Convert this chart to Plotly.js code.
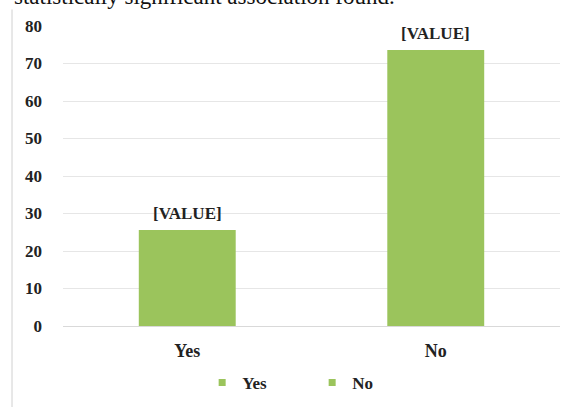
<!DOCTYPE html>
<html>
<head>
<meta charset="utf-8">
<script src="https://cdn.plot.ly/plotly-3.0.1.min.js"></script>
<style>html,body{margin:0;padding:0;background:#fff;}#chart{width:574px;height:407px;}</style>
</head>
<body>
<div id="chart"></div>
<script>
var categories = ["Yes", "No"];
var values = [25.6, 73.6];
var barLabels = ["[VALUE]", "[VALUE]"];
var yTicks = [0, 10, 20, 30, 40, 50, 60, 70, 80];
var captionText = "statistically significant association found.";

var green = "#9bc45c";
var serif = "'Liberation Serif', 'Times New Roman', serif";

var traces = categories.map(function(c, i) {
  return {
    type: "bar",
    name: c,
    x: [c],
    y: [values[i]],
    marker: {color: green},
    width: 0.39,
    showlegend: false,
    hoverinfo: "skip"
  };
});
// legend entries (small square markers, as in the reference)
categories.forEach(function(c) {
  traces.push({
    type: "scatter", mode: "markers",
    name: "<b>" + c + "</b>",
    x: [null], y: [null],
    marker: {color: green, symbol: "square", size: 7},
    showlegend: true, hoverinfo: "skip"
  });
});

var labelAnnotations = categories.map(function(c, i) {
  return {
    x: c, y: values[i], xref: "x", yref: "y",
    yanchor: "bottom", yshift: 5,
    text: "<b>" + barLabels[i] + "</b>", showarrow: false,
    font: {family: serif, size: 17, color: "#222"}
  };
});

var layout = {
  width: 574, height: 407,
  margin: {l: 63, r: 14, t: 26, b: 81, autoexpand: false},
  paper_bgcolor: "#fff",
  plot_bgcolor: "#fff",
  barmode: "overlay",
  showlegend: true,
  legend: {
    orientation: "h", x: 0.28, xanchor: "left", y: -0.19, yanchor: "middle",
    font: {family: serif, size: 17, color: "#222"},
    itemwidth: 30, entrywidth: 65, entrywidthmode: "pixels",
    tracegroupgap: 0, itemclick: false
  },
  xaxis: {
    type: "category",
    categoryorder: "array", categoryarray: categories,
    range: [-0.5, 1.5],
    showgrid: false, zeroline: false, showline: false,
    ticks: "", ticklabelstandoff: 12,
    tickfont: {family: serif, size: 18, color: "#222"},
    tickprefix: "<b>", ticksuffix: "</b>"
  },
  yaxis: {
    range: [0, 80],
    tickmode: "array", tickvals: yTicks,
    ticktext: yTicks.map(function(v){return "<b>" + v + "</b>";}),
    showgrid: true, gridcolor: "#e6e6e6", gridwidth: 1,
    zeroline: true, zerolinecolor: "#d9d9d9", zerolinewidth: 1,
    showline: false, ticks: "", ticklabelstandoff: 20,
    tickfont: {family: serif, size: 17, color: "#222"}
  },
  shapes: [{
    type: "line", xref: "paper", yref: "paper",
    x0: -0.1026, x1: -0.1026, y0: -0.27, y1: 1.055,
    line: {color: "#d0d0d0", width: 1}
  }],
  annotations: labelAnnotations.concat([{
    xref: "paper", yref: "paper",
    x: -0.103, xanchor: "left",
    y: 1.05, yanchor: "bottom",
    text: captionText, showarrow: false,
    font: {family: serif, size: 23, color: "#111"}
  }])
};

Plotly.newPlot("chart", traces, layout, {displayModeBar: false, staticPlot: true});
</script>
</body>
</html>
